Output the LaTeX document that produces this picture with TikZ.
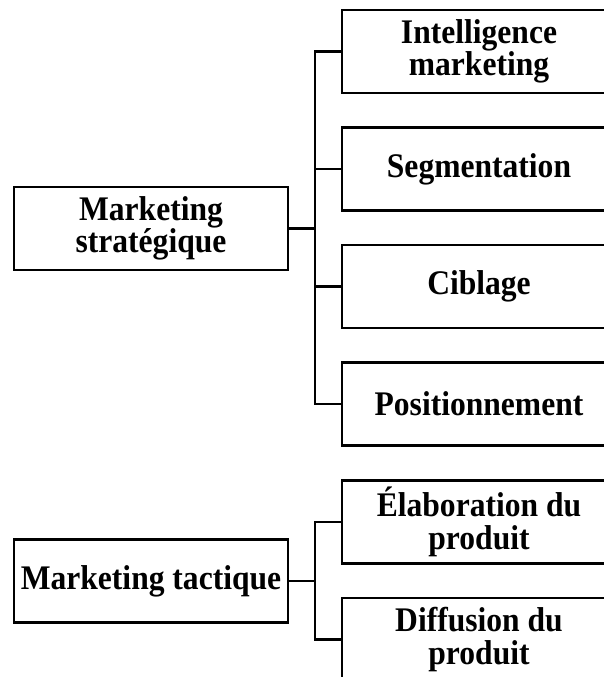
\documentclass[tikz,border=0pt]{standalone}
\usepackage{fontspec}
\setmainfont{Liberation Serif}[FakeStretch=0.915]
\begin{document}
\begin{tikzpicture}[x=1pt,y=-1pt,
  box/.style={draw=black, line width=2.2pt, minimum width=274pt, minimum height=83pt,
    inner sep=0pt, align=center, font=\fontsize{34.5}{32.5}\selectfont\bfseries},
  link/.style={draw=black, line width=2.2pt}]
\useasboundingbox (0,0) rectangle (604,677);
\clip (0,0) rectangle (604,677);
\node[box] (L1) at (151,228.5) {Marketing\\strat\'egique};
\node[box] (L2) at (151,581) {Marketing tactique};
\node[box] (R1) at (479,51.5) {Intelligence\\marketing};
\node[box] (R2) at (479,169) {Segmentation};
\node[box] (R3) at (479,286.5) {Ciblage};
\node[box] (R4) at (479,404) {Positionnement};
\node[box] (R5) at (479,522) {\'Elaboration du\\produit};
\node[box] (R6) at (479,639.5) {Diffusion du\\produit};
\coordinate (J1) at (315,228.5);
\coordinate (J2) at (315,581);
\draw[link] (L1.east) -- (J1);
\draw[link] (J1) |- (R1.west);
\draw[link] (J1) |- (R2.west);
\draw[link] (J1) |- (R3.west);
\draw[link] (J1) |- (R4.west);
\draw[link] (L2.east) -- (J2);
\draw[link] (J2) |- (R5.west);
\draw[link] (J2) |- (R6.west);
\end{tikzpicture}
\end{document}
